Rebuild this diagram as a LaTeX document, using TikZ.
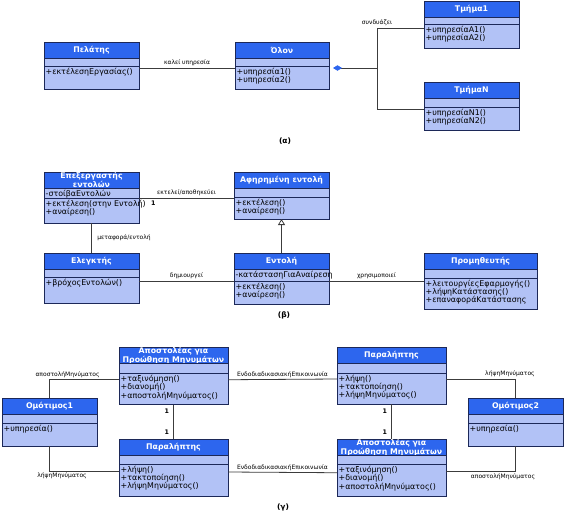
\documentclass[tikz,border=0pt]{standalone}
\usepackage{fontspec}
\setmainfont{DejaVu Sans}
\usetikzlibrary{positioning,arrows.meta}

\definecolor{headblue}{RGB}{45,102,238}
\definecolor{bodyblue}{RGB}{178,194,246}
\definecolor{frameblue}{RGB}{28,40,88}
\definecolor{linegray}{RGB}{60,60,60}

% name, left, top, width, attribute height, operation height, title, attributes, operations
\newcommand{\umlclass}[9]{%
  \node[class head,minimum width=#4pt,anchor=north west] (#1) at (#2,#3) {#7};
  \node[class part,minimum width=#4pt,minimum height=#5pt,below=0pt of #1] (#1-a) {};
  \node[class part,minimum width=#4pt,minimum height=#6pt,below=0pt of #1-a] (#1-o) {};
  \node[member] (#1-at) at (#1-a.north west) {#8};
  \node[member] (#1-op) at (#1-o.north west) {#9};
}

\begin{document}
\begin{tikzpicture}[x=1pt,y=-1pt,
    class head/.style={draw=frameblue,fill=headblue,line width=0.9pt,inner sep=0pt,outer sep=0pt,minimum height=16pt,text=white,align=center,font=\bfseries\fontsize{7.8}{7.6}\selectfont},
    class part/.style={draw=frameblue,fill=bodyblue,line width=0.9pt,inner sep=0pt,outer sep=0pt},
    member/.style={anchor=north west,inner sep=1.5pt,align=left,font=\fontsize{7.9}{8.2}\selectfont},
    link/.style={draw=linegray,line width=0.8pt},
    tag/.style={font=\fontsize{6}{6.5}\selectfont,inner sep=1.5pt},
    mult/.style={font=\bfseries\fontsize{6.3}{6.5}\selectfont,inner sep=1pt},
    caption/.style={font=\bfseries\fontsize{7.5}{8}\selectfont}]
    \useasboundingbox (0,0) rectangle (564,511);

    % (a)
    \umlclass{pel}{44}{42}{95}{8}{23}{Πελάτης}{}{+εκτέλεσηΕργασίας()}
    \umlclass{olon}{235}{42}{94}{8}{23}{Όλον}{}{+υπηρεσία1()\\+υπηρεσία2()}
    \umlclass{tm1}{424}{1}{95}{7}{24}{Τμήμα1}{}{+υπηρεσίαA1()\\+υπηρεσίαA2()}
    \umlclass{tmN}{424}{82}{95}{9}{23}{ΤμήμαN}{}{+υπηρεσίαN1()\\+υπηρεσίαN2()}

    \draw[link] ([yshift=-2pt]pel-o.north east) -- ([yshift=-2pt]olon-o.north west) node[tag,midway,above] {καλεί υπηρεσία};
    \coordinate (joint) at (377,68);
    \draw[link,{Diamond[length=9pt,width=5.5pt,fill=headblue,color=headblue]}-] ([xshift=4pt,yshift=-2pt]olon-o.north east) -- (joint);
    \draw[link] ([yshift=-4pt]tm1-o.north west) -| (joint) node[tag,pos=0.5,above] {συνδυάζει};
    \draw[link] (joint) |- ([yshift=-2pt]tmN-o.north west);
    \node[caption] (cap-a) at (285,141) {(α)};

    % (b)
    \umlclass{epex}{44}{172}{95}{10}{25}{Επεξεργαστής\\εντολών}{-στοίβαΕντολών}{+εκτέλεση(στην Εντολή)\\+αναίρεση()}
    \umlclass{afir}{234}{172}{95}{9}{22}{Αφηρημένη εντολή}{}{+εκτέλεση()\\+αναίρεση()}
    \umlclass{eleg}{44}{253}{95}{8}{26}{Ελεγκτής}{}{+βρόχοςΕντολών()}
    \umlclass{ent}{234}{253}{95}{12}{23}{Εντολή}{-κατάστασηΓιαΑναίρεση}{+εκτέλεση()\\+αναίρεση()}
    \umlclass{prom}{424}{253}{113}{9}{31}{Προμηθευτής}{}{+λειτουργίεςΕφαρμογής()\\+λήψηΚατάστασης()\\+επαναφοράΚατάστασης}

    \draw[link] (epex-o.north east) -- (epex-o.north east -| afir.west) node[tag,midway,above] {εκτελεί/αποθηκεύει} node[mult,pos=0.15,below=2pt] {1};
    \draw[link] (epex-o.south) -- (eleg.north) node[tag,midway,right=4pt] {μεταφορά/εντολή};
    \draw[link] (ent-o.north west) -- (ent-o.north west -| eleg.east) node[tag,midway,above] {δημιουργεί};
    \draw[link,-{Triangle[open,length=6pt,width=7pt]}] (ent.north) -- (afir-o.south);
    \draw[link] (ent-o.north east) -- (ent-o.north east -| prom.west) node[tag,midway,above] {χρησιμοποιεί};
    \node[caption] (cap-b) at (284,315) {(β)};

    % (c)
    \umlclass{apo1}{119}{347}{109}{10}{31}{Αποστολέας για\\Προώθηση Μηνυμάτων}{}{+ταξινόμηση()\\+διανομή()\\+αποστολήΜηνύματος()}
    \umlclass{par1}{337}{347}{109}{10}{31}{Παραλήπτης}{}{+λήψη()\\+τακτοποίηση()\\+λήψηΜηνύματος()}
    \umlclass{omo1}{2}{398}{95}{9}{23}{Ομότιμος1}{}{+υπηρεσία()}
    \umlclass{omo2}{468}{398}{95}{9}{23}{Ομότιμος2}{}{+υπηρεσία()}
    \umlclass{par2}{119}{439}{109}{9}{32}{Παραλήπτης}{}{+λήψη()\\+τακτοποίηση()\\+λήψηΜηνύματος()}
    \umlclass{apo2}{337}{439}{109}{9}{32}{Αποστολέας για\\Προώθηση Μηνυμάτων}{}{+ταξινόμηση()\\+διανομή()\\+αποστολήΜηνύματος()}

    \draw[link] (omo1.north) |- ([yshift=-6pt]apo1-o.north west) node[tag,pos=0.63,above] {αποστολήΜηνύματος};
    \draw[link] (omo1-o.south) |- ([yshift=-7pt]par2-o.north west) node[tag,pos=0.59,below] {λήψηΜηνύματος};
    \draw[link] ([yshift=-6pt]apo1-o.north east) -- ([yshift=-6pt]par1-o.north west) node[tag,midway,above] {ΕνδοδιαδικασιακήΕπικοινωνία};
    \draw[link] ([yshift=-8pt]par2-o.north east) -- ([yshift=-8pt]apo2-o.north west) node[tag,midway,above] {ΕνδοδιαδικασιακήΕπικοινωνία};
    \draw[link] (apo1-o.south) -- (par2.north) node[mult,pos=0.2,left=3pt] {1} node[mult,pos=0.8,left=3pt] {1};
    \draw[link] (par1-o.south) -- (apo2.north) node[mult,pos=0.2,left=3pt] {1} node[mult,pos=0.8,left=3pt] {1};
    \draw[link] ([yshift=-6pt]par1-o.north east) -| (omo2.north) node[tag,pos=0.46,above] {λήψηΜηνύματος};
    \draw[link] ([yshift=-7pt]apo2-o.north east) -| (omo2-o.south) node[tag,pos=0.41,below] {αποστολήΜηνύματος};
    \node[caption] (cap-c) at (283,507) {(γ)};
\end{tikzpicture}
\end{document}
